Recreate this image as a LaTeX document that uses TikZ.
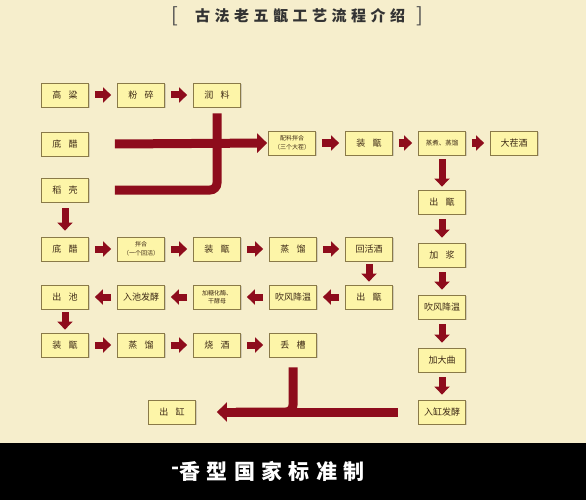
\documentclass[tikz,border=0pt]{standalone}
\usepackage{fontspec}
\usepackage{tikz}
\usetikzlibrary{arrows.meta,shadows}
\newfontfamily\cjk{Noto Sans CJK SC}
\newfontfamily\cjkspaced[LetterSpace=30]{Noto Sans CJK SC}
\definecolor{paper}{RGB}{246,238,204}
\definecolor{boxfill}{RGB}{253,245,168}
\definecolor{boxline}{RGB}{138,122,72}
\definecolor{boxtext}{RGB}{62,42,22}
\definecolor{wine}{RGB}{142,12,28}
\newcommand\StageBox[4]{%
    \node[stagebox] (#1) at (#2,#3) {#4};
}
\newcommand\StepArrow[3][]{%
    \draw[steparrow,#1] (#2) -- (#3);
}
\newcommand\Pair[2]{#1\hspace{0.8em}#2}

\begin{document}
\begin{tikzpicture}[x=1pt,y=-1pt,
    stagebox/.style={draw=boxline,fill=boxfill,line width=0.8pt,
        minimum width=47pt,minimum height=24pt,inner sep=0pt,
        text=boxtext,font=\cjk\fontsize{9}{10}\selectfont,align=center,
        drop shadow={shadow xshift=1.2pt,shadow yshift=-1.2pt,opacity=0.3}},
    smallbox/.style={stagebox,font=\cjk\fontsize{6}{8.5}\selectfont},
    steparrow/.style={draw=wine,line width=7pt,shorten <=6pt,shorten >=6pt,
        -{Triangle[width=15pt,length=8pt]}},
    tightstep/.style={shorten <=3pt,shorten >=3pt},
    bigbar/.style={draw=wine,line width=9pt},
    bigarrow/.style={bigbar,-{Triangle[width=19pt,length=10pt]}}]
    \useasboundingbox (0,0) rectangle (586,500);
    \fill[paper] (0,0) rectangle (586,443);
    \fill[black] (0,443) rectangle (586,500);
    % title
    \node[font=\cjkspaced\bfseries\fontsize{15}{15}\selectfont,text=black!80] (title) at (300,16) {古法老五甑工艺流程介绍};
    \node[font=\cjk\fontsize{20}{20}\selectfont,text=black!70] (lbr) at (175,16) {[};
    \node[font=\cjk\fontsize{20}{20}\selectfont,text=black!70] (rbr) at (420,16) {]};
    % raw materials
    \StageBox{gaoliang}{65}{95}{\Pair{高}{粱}}
    \StageBox{fensui}{141}{95}{\Pair{粉}{碎}}
    \StageBox{runliao}{217}{95}{\Pair{润}{料}}
    \StageBox{dicu}{65}{144}{\Pair{底}{醋}}
    \StageBox{daoke}{65}{190}{\Pair{稻}{壳}}
    % first steam
    \node[smallbox] (peiliao) at (292,143) {配料拌合\\（三个大茬）};
    \StageBox{zhuangzeng}{369}{143}{\Pair{装}{甑}}
    \node[smallbox,font=\cjk\fontsize{6.5}{8}\selectfont] (zhengzhu) at (442,143) {蒸煮、蒸馏};
    \StageBox{dachajiu}{514}{143}{大茬酒}
    % right column
    \StageBox{chuzeng}{442}{202}{\Pair{出}{甑}}
    \StageBox{jiajiang}{442}{255}{\Pair{加}{浆}}
    \StageBox{chuifeng}{442}{307}{吹风降温}
    \StageBox{jiadaqu}{442}{360}{加大曲}
    \StageBox{rugang}{442}{412}{入缸发酵}
    % huihuo round
    \StageBox{dicuB}{65}{249}{\Pair{底}{醋}}
    \node[smallbox] (banhe) at (141,249) {拌合\\（一个回活）};
    \StageBox{zhuangzengB}{217}{249}{\Pair{装}{甑}}
    \StageBox{zhengliu}{293}{249}{\Pair{蒸}{馏}}
    \StageBox{huihuojiu}{369}{249}{回活酒}
    \StageBox{chuchi}{65}{297}{\Pair{出}{池}}
    \StageBox{ruchi}{141}{297}{入池发酵}
    \node[smallbox] (jiatang) at (217,297) {加糖化酶、\\干酵母};
    \StageBox{chuifengB}{293}{297}{吹风降温}
    \StageBox{chuzengB}{369}{297}{\Pair{出}{甑}}
    \StageBox{zhuangzengC}{65}{345}{\Pair{装}{甑}}
    \StageBox{zhengliuC}{141}{345}{\Pair{蒸}{馏}}
    \StageBox{shaojiu}{217}{345}{\Pair{烧}{酒}}
    \StageBox{diucao}{293}{345}{\Pair{丢}{槽}}
    \StageBox{chugang}{172}{412}{\Pair{出}{缸}}
    % small arrows
    \StepArrow{gaoliang}{fensui}
    \StepArrow{fensui}{runliao}
    \StepArrow{peiliao}{zhuangzeng}
    \StepArrow{zhuangzeng}{zhengzhu}
    \StepArrow{zhengzhu}{dachajiu}
    \StepArrow[shorten <=4pt,shorten >=3pt]{zhengzhu}{chuzeng}
    \StepArrow[shorten <=5pt,shorten >=5pt]{chuzeng}{jiajiang}
    \StepArrow[shorten <=5pt,shorten >=5pt]{jiajiang}{chuifeng}
    \StepArrow[shorten <=5pt,shorten >=5pt]{chuifeng}{jiadaqu}
    \StepArrow[shorten <=5pt,shorten >=5pt]{jiadaqu}{rugang}
    \StepArrow{daoke}{dicuB}
    \StepArrow{dicuB}{banhe}
    \StepArrow{banhe}{zhuangzengB}
    \StepArrow{zhuangzengB}{zhengliu}
    \StepArrow{zhengliu}{huihuojiu}
    \StepArrow[tightstep]{huihuojiu}{chuzengB}
    \StepArrow{chuzengB}{chuifengB}
    \StepArrow{chuifengB}{jiatang}
    \StepArrow{jiatang}{ruchi}
    \StepArrow{ruchi}{chuchi}
    \StepArrow[tightstep]{chuchi}{zhuangzengC}
    \StepArrow{zhuangzengC}{zhengliuC}
    \StepArrow{zhengliuC}{shaojiu}
    \StepArrow{shaojiu}{diucao}
    % big feed arrows
    \draw[bigarrow,shorten >=1pt] ([xshift=26pt]dicu.east) -- (peiliao.west);
    \draw[bigbar,rounded corners=7pt] ([yshift=-6pt]runliao.south) |- ([xshift=26pt]daoke.east);
    \draw[bigarrow,shorten <=20pt,shorten >=21pt] (rugang.west) -- (chugang.east);
    \draw[bigbar,rounded corners=7pt] ([yshift=-10pt]diucao.south) |- ([xshift=40pt]chugang.east);
    % bottom band
    \node[font=\cjkspaced\bfseries\fontsize{21}{21}\selectfont,text=white] (band) at (268,471) {\raisebox{5pt}{-}香型国家标准制};
\end{tikzpicture}
\end{document}
